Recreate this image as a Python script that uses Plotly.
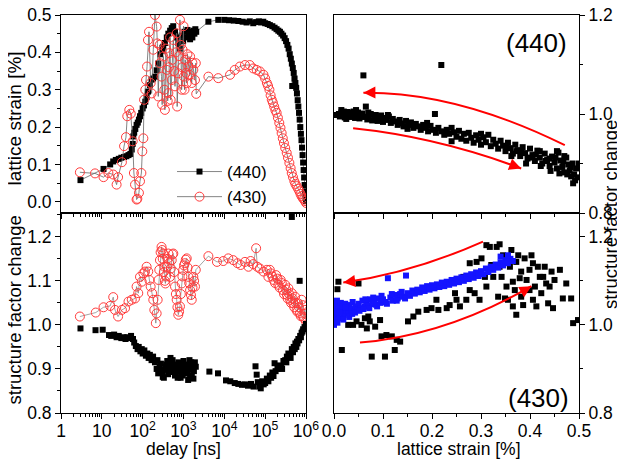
import plotly.graph_objects as go

# top left: (440) lattice strain vs delay
t_strain_440 = [3.0, 11, 16, 19, 22, 26, 30, 35, 40, 45,
                50, 54, 57, 59, 62, 66, 71, 76, 81, 86,
                92, 100, 108, 116, 125, 135, 150, 165, 180, 200,
                220, 241, 270, 300, 320, 350, 390, 425, 470, 515,
                560, 620, 680, 750, 820, 900, 980, 1060, 1150, 1250,
                1350, 1450, 1550, 1650, 1750, 1850, 1950, 2050, 4070, 7100,
                10000, 13000, 17000, 22000, 28000, 35000, 42000, 51000, 60000, 70000,
                80000, 90000, 100000, 115000, 130000, 150000, 170000, 190000, 210000, 230000,
                250000, 275000, 300000, 325000, 350000, 375000, 400000, 425000, 450000, 460000,
                475000, 500000, 525000, 550000, 575000, 600000, 625000, 650000, 675000, 700000,
                725000, 750000, 775000, 800000, 825000, 850000, 875000, 900000, 925000, 950000,
                975000, 1000000]
strain_440 = [0.058, 0.088, 0.100, 0.108, 0.112, 0.115, 0.118, 0.120, 0.122, 0.125,
              0.128, 0.140, 0.155, 0.175, 0.185, 0.195, 0.206, 0.212, 0.220, 0.229,
              0.238, 0.250, 0.258, 0.268, 0.280, 0.295, 0.312, 0.327, 0.330, 0.335,
              0.352, 0.370, 0.395, 0.405, 0.415, 0.425, 0.440, 0.450, 0.458, 0.465,
              0.470, 0.455, 0.440, 0.425, 0.410, 0.445, 0.430, 0.455, 0.440, 0.460,
              0.445, 0.435, 0.455, 0.440, 0.458, 0.450, 0.462, 0.455, 0.482, 0.487,
              0.487, 0.486, 0.485, 0.484, 0.482, 0.480, 0.483, 0.478, 0.481, 0.483,
              0.480, 0.482, 0.478, 0.476, 0.473, 0.470, 0.466, 0.462, 0.458, 0.455,
              0.450, 0.445, 0.438, 0.430, 0.420, 0.410, 0.395, 0.383, 0.370, 0.310,
              0.358, 0.345, 0.330, 0.318, 0.305, 0.290, 0.272, 0.255, 0.238, 0.220,
              0.200, 0.182, 0.165, 0.145, 0.125, 0.105, 0.085, 0.065, 0.045, 0.028,
              0.012, 0.002]

# top left: (430) lattice strain vs delay
t_strain_430 = [2.9, 6.8, 11, 14.5, 19, 23, 25, 31, 35, 39,
                42, 47, 51, 57, 61, 65, 71, 74, 81, 86,
                93, 98, 104, 108, 116, 121, 128, 135, 143, 157,
                166, 182, 200, 220, 229, 241, 260, 265, 290, 300,
                320, 340, 350, 370, 389, 410, 425, 440, 450, 470,
                485, 515, 530, 563, 590, 620, 650, 680, 700, 745,
                780, 819, 860, 900, 930, 950, 1000, 1020, 1060, 1100,
                1150, 1200, 1250, 1320, 1400, 1450, 1590, 1650, 1740, 1910,
                2000, 2050, 4070, 7100, 13800, 18000, 24000, 32000, 42000, 51000,
                62000, 74000, 91000, 100000, 110000, 118000, 127000, 136000, 145000, 155000,
                166000, 178000, 191000, 205000, 222000, 237000, 253000, 270000, 288000, 310000,
                337000, 362000, 392000, 420000, 447000, 480000, 518000, 550000, 589000, 640000,
                690000, 735000, 780000, 835000, 890000, 945000, 1000000]
strain_430 = [0.079, 0.076, 0.066, 0.077, 0.073, 0.046, 0.066, 0.106, 0.149, 0.173,
              0.229, 0.246, 0.236, 0.162, 0.077, 0.046, 0.006, 0.008, 0.024, 0.055,
              0.077, 0.135, 0.170, 0.273, 0.300, 0.326, 0.362, 0.433, 0.455, 0.318,
              0.290, 0.407, 0.500, 0.469, 0.424, 0.282, 0.420, 0.371, 0.335, 0.260,
              0.389, 0.300, 0.246, 0.410, 0.353, 0.270, 0.291, 0.360, 0.398, 0.440,
              0.273, 0.326, 0.380, 0.433, 0.350, 0.309, 0.400, 0.451, 0.255, 0.344,
              0.390, 0.487, 0.420, 0.300, 0.360, 0.407, 0.470, 0.335, 0.300, 0.380,
              0.345, 0.318, 0.395, 0.362, 0.340, 0.389, 0.318, 0.372, 0.353, 0.326,
              0.371, 0.289, 0.335, 0.331, 0.340, 0.353, 0.362, 0.366, 0.366, 0.357,
              0.353, 0.349, 0.340, 0.330, 0.318, 0.310, 0.300, 0.285, 0.273, 0.265,
              0.255, 0.245, 0.238, 0.225, 0.211, 0.198, 0.184, 0.170, 0.157, 0.144,
              0.131, 0.118, 0.104, 0.090, 0.077, 0.066, 0.055, 0.048, 0.042, 0.035,
              0.028, 0.021, 0.015, 0.010, 0.006, 0.002, -0.003]

# bottom left: (440) structure factor change vs delay
t_sf_440 = [3.0, 7.0, 10.5, 15, 17, 20, 23, 26, 30, 34,
            38, 42, 48, 52, 58, 62, 68, 75, 80, 88,
            95, 100, 110, 120, 130, 140, 150, 165, 180, 200,
            220, 240, 260, 280, 300, 330, 360, 400, 440, 480,
            520, 560, 600, 650, 700, 750, 800, 850, 900, 1000,
            1100, 1200, 1300, 1400, 1500, 1600, 1700, 1800, 2000, 4300,
            7000, 11000, 14000, 18000, 22000, 27000, 32000, 38000, 45000, 52000,
            58000, 62000, 66000, 72000, 78000, 85000, 92000, 100000, 110000, 120000,
            130000, 140000, 150000, 160000, 170000, 180000, 200000, 220000, 250000, 280000,
            310000, 340000, 370000, 400000, 450000, 500000, 550000, 600000, 650000, 700000,
            720000, 780000, 850000, 920000, 1000000, 450000,
            230, 270, 310, 350, 380, 420, 460, 500, 540, 580,
            620, 680, 720, 780, 830, 880, 950, 1050, 1150, 1250,
            1350, 1450, 1550, 1650, 1750, 1900,
            260000, 330000, 420000, 480000, 530000, 580000, 620000, 680000, 750000, 820000]
sf_440 = [0.992, 0.988, 0.989, 0.977, 0.975, 0.978, 0.972, 0.975, 0.970, 0.972,
          0.968, 0.972, 0.970, 0.975, 0.968, 0.960, 0.952, 0.945, 0.950, 0.940,
          0.945, 0.935, 0.942, 0.930, 0.935, 0.925, 0.932, 0.920, 0.928, 0.915,
          0.900, 0.890, 0.905, 0.912, 0.895, 0.880, 0.905, 0.918, 0.900, 0.925,
          0.908, 0.893, 0.910, 0.888, 0.902, 0.915, 0.895, 0.880, 0.905, 0.918,
          0.890, 0.910, 0.875, 0.920, 0.898, 0.885, 0.912, 0.895, 0.905, 0.894,
          0.890, 0.874, 0.872, 0.868, 0.866, 0.864, 0.865, 0.862, 0.866, 0.860,
          0.906, 0.887, 0.870, 0.860, 0.856, 0.872, 0.865, 0.868, 0.878, 0.872,
          0.885, 0.880, 0.892, 0.884, 0.913, 0.895, 0.900, 0.908, 0.905, 0.918,
          0.920, 0.928, 0.935, 0.930, 0.945, 0.950, 0.958, 0.962, 0.968, 1.100,
          0.975, 0.982, 0.990, 0.995, 1.002, 1.245,
          0.920, 0.895, 0.882, 0.898, 0.910, 0.888, 0.915, 0.895, 0.920, 0.905,
          0.885, 0.898, 0.880, 0.910, 0.900, 0.892, 0.885, 0.905, 0.898, 0.890,
          0.905, 0.880, 0.915, 0.900, 0.878, 0.915,
          0.900, 0.915, 0.925, 0.938, 0.945, 0.950, 0.958, 0.965, 0.972, 0.985]

# bottom left: (430) structure factor change vs delay
t_sf_430 = [2.9, 7.1, 11, 16, 19, 21, 25, 31, 37, 45,
            54, 65, 71, 78, 86, 95, 104, 114, 125, 137,
            146, 157, 170, 182, 193, 210, 220, 233, 245, 255,
            265, 275, 290, 300, 310, 320, 330, 340, 350, 360,
            375, 389, 405, 425, 445, 465, 490, 515, 540, 563,
            590, 620, 650, 680, 710, 745, 780, 819, 860, 900,
            940, 985, 1030, 1080, 1140, 1200, 1260, 1320, 1380, 1450,
            1520, 1590, 1660, 1740, 1820, 1910, 2000, 4070, 6600, 9400,
            12500, 16500, 21000, 25000, 32000, 39000, 44000, 51000, 60000, 64000,
            74000, 91000, 110000, 120000, 130000, 137000, 150000, 160000, 175000, 185000,
            200000, 210000, 225000, 240000, 255000, 270000, 290000, 310000, 325000, 340000,
            355000, 370000, 390000, 410000, 430000, 450000, 470000, 490000, 515000, 540000,
            565000, 590000, 615000, 640000, 675000, 710000, 745000, 780000, 815000, 850000,
            895000, 940000, 970000, 1000000]
sf_430 = [1.019, 1.028, 1.040, 1.043, 1.063, 1.034, 1.019, 1.034, 1.038, 1.053,
          1.057, 1.060, 1.087, 1.072, 1.109, 1.098, 1.117, 1.121, 1.132, 1.121,
          1.102, 1.087, 1.072, 1.057, 1.034, 1.004, 1.026, 1.057, 1.102, 1.125,
          1.147, 1.165, 1.177, 1.170, 1.150, 1.162, 1.120, 1.132, 1.100, 1.094,
          1.110, 1.132, 1.150, 1.162, 1.140, 1.109, 1.128, 1.147, 1.160, 1.162,
          1.120, 1.087, 1.070, 1.057, 1.040, 1.023, 1.030, 1.042, 1.070, 1.094,
          1.110, 1.125, 1.135, 1.140, 1.148, 1.151, 1.130, 1.109, 1.095, 1.079,
          1.068, 1.057, 1.085, 1.109, 1.100, 1.087, 1.125, 1.156, 1.143, 1.145,
          1.151, 1.147, 1.140, 1.136, 1.143, 1.132, 1.145, 1.138, 1.174, 1.132,
          1.128, 1.121, 1.125, 1.109, 1.125, 1.117, 1.110, 1.102, 1.095, 1.113,
          1.105, 1.091, 1.085, 1.102, 1.095, 1.079, 1.070, 1.091, 1.080, 1.068,
          1.060, 1.083, 1.070, 1.057, 1.050, 1.072, 1.060, 1.049, 1.040, 1.064,
          1.050, 1.034, 1.030, 1.049, 1.040, 1.026, 1.020, 1.057, 1.045, 1.019,
          1.015, 1.034, 1.025, 1.008]

# top right: (440) structure factor change vs lattice strain
x_440 = [0.010, 0.012, 0.015, 0.018, 0.020, 0.022, 0.025, 0.028, 0.030, 0.033,
         0.036, 0.038, 0.040, 0.043, 0.046, 0.049, 0.052, 0.055, 0.058, 0.060,
         0.062, 0.065, 0.068, 0.071, 0.075, 0.078, 0.082, 0.085, 0.089, 0.092,
         0.096, 0.100, 0.104, 0.108, 0.112, 0.116, 0.120, 0.125, 0.130, 0.134,
         0.138, 0.142, 0.147, 0.152, 0.157, 0.162, 0.167, 0.172, 0.177, 0.182,
         0.187, 0.192, 0.197, 0.202, 0.206, 0.208, 0.213, 0.219, 0.220, 0.225,
         0.230, 0.235, 0.240, 0.245, 0.250, 0.255, 0.260, 0.265, 0.270, 0.275,
         0.280, 0.285, 0.290, 0.295, 0.300, 0.305, 0.310, 0.315, 0.320, 0.325,
         0.330, 0.335, 0.340, 0.345, 0.350, 0.355, 0.360, 0.365, 0.370, 0.375,
         0.380, 0.385, 0.390, 0.395, 0.400, 0.405, 0.410, 0.415, 0.420, 0.425,
         0.430, 0.435, 0.440, 0.445, 0.450, 0.455, 0.458, 0.462, 0.466, 0.470,
         0.474, 0.478, 0.481, 0.484, 0.487, 0.490, 0.492, 0.494, 0.497, 0.500,
         0.352, 0.362, 0.372, 0.382, 0.392, 0.402, 0.412, 0.422, 0.432, 0.442,
         0.452, 0.460, 0.468, 0.476, 0.483, 0.488, 0.470, 0.455, 0.440, 0.420,
         0.005, 0.015, 0.025, 0.045, 0.070, 0.110, 0.150, 0.190, 0.240, 0.300]
y_440 = [1.000, 0.995, 1.003, 0.997, 1.005, 0.993, 0.999, 1.004, 0.996, 1.002,
         0.994, 0.999, 1.005, 0.992, 0.998, 1.003, 0.991, 0.997, 1.001, 1.078,
         0.994, 1.015, 0.989, 0.996, 1.000, 0.987, 0.994, 0.998, 0.986, 0.993,
         0.997, 0.984, 0.992, 0.988, 0.995, 0.982, 0.990, 0.985, 0.978, 0.988,
         0.981, 0.975, 0.986, 0.978, 0.983, 0.972, 0.980, 0.975, 0.968, 0.978,
         0.972, 0.965, 0.976, 0.968, 1.000, 0.962, 0.972, 1.099, 0.965, 0.958,
         0.968, 0.960, 0.945, 0.963, 0.954, 0.966, 0.950, 0.960, 0.946, 0.962,
         0.952, 0.942, 0.957, 0.948, 0.938, 0.953, 0.943, 0.958, 0.935, 0.948,
         0.940, 0.930, 0.946, 0.936, 0.925, 0.942, 0.931, 0.920, 0.938, 0.927,
         0.915, 0.933, 0.921, 0.910, 0.930, 0.917, 0.905, 0.926, 0.912, 0.900,
         0.920, 0.907, 0.895, 0.914, 0.902, 0.890, 0.922, 0.906, 0.893, 0.882,
         0.912, 0.898, 0.886, 0.874, 0.900, 0.878, 0.866, 0.890, 0.872, 0.900,
         0.932, 0.915, 0.925, 0.922, 0.900, 0.912, 0.918, 0.895, 0.905, 0.885,
         0.912, 0.880, 0.905, 0.878, 0.893, 0.860, 0.915, 0.925, 0.910, 0.925,
         0.998, 1.008, 0.990, 1.008, 1.003, 0.998, 0.970, 0.982, 0.972, 0.960]

# bottom right: (430) structure factor change vs lattice strain, rise (black)
x_430_rise = [0.009, 0.007, 0.016, 0.029, 0.039, 0.046, 0.050, 0.056, 0.063, 0.067,
              0.070, 0.073, 0.077, 0.084, 0.094, 0.097, 0.104, 0.107, 0.118, 0.124,
              0.128, 0.135, 0.151, 0.162, 0.172, 0.189, 0.209, 0.230, 0.236, 0.250,
              0.264, 0.277, 0.277, 0.287, 0.291, 0.301, 0.308, 0.311, 0.318, 0.321,
              0.332, 0.335, 0.342, 0.345, 0.349, 0.352, 0.355, 0.359, 0.362, 0.365,
              0.369, 0.372, 0.376, 0.379, 0.382, 0.386, 0.389, 0.393, 0.399, 0.403,
              0.406, 0.410, 0.413, 0.420, 0.423, 0.430, 0.433, 0.437, 0.444, 0.447,
              0.450, 0.461, 0.467, 0.474, 0.484, 0.488, 0.498, 0.311, 0.338, 0.372,
              0.382, 0.406, 0.416, 0.427, 0.440, 0.399, 0.365, 0.338, 0.325, 0.297,
              0.270, 0.247, 0.213, 0.199, 0.257]
y_430_rise = [1.098, 1.081, 0.943, 1.000, 1.000, 1.008, 1.094, 1.000, 1.015, 0.992,
              1.019, 1.008, 0.928, 0.996, 1.011, 0.974, 0.928, 0.977, 0.974, 0.943,
              0.966, 0.962, 1.008, 1.019, 1.030, 1.034, 1.057, 1.038, 1.045, 1.057,
              1.109, 1.079, 1.140, 1.072, 1.143, 1.151, 1.109, 1.087, 1.177, 1.136,
              1.177, 1.064, 1.109, 1.158, 1.060, 1.087, 1.057, 1.132, 1.170, 1.042,
              1.079, 1.023, 1.158, 1.106, 1.064, 1.045, 1.151, 1.102, 1.125, 1.158,
              1.057, 1.087, 1.042, 1.109, 1.072, 1.132, 1.094, 1.049, 1.121, 1.038,
              1.102, 1.125, 1.060, 1.094, 1.060, 1.004, 1.011, 1.181, 1.183, 1.143,
              1.121, 1.140, 1.132, 1.109, 1.087, 1.079, 1.098, 1.132, 1.109, 1.057,
              1.057, 1.072, 1.034, 1.038, 1.042]

# bottom right: (430) decay (blue)
x_430_decay = [0.000, 0.002, 0.003, 0.004, 0.005, 0.006, 0.008, 0.010, 0.012, 0.014,
               0.016, 0.018, 0.020, 0.023, 0.026, 0.029, 0.032, 0.035, 0.038, 0.041,
               0.044, 0.047, 0.050, 0.054, 0.058, 0.062, 0.066, 0.070, 0.074, 0.078,
               0.082, 0.086, 0.090, 0.095, 0.100, 0.105, 0.110, 0.115, 0.120, 0.125,
               0.130, 0.135, 0.140, 0.147, 0.150, 0.155, 0.160, 0.165, 0.170, 0.175,
               0.180, 0.185, 0.190, 0.195, 0.200, 0.205, 0.210, 0.215, 0.220, 0.225,
               0.230, 0.235, 0.240, 0.245, 0.250, 0.255, 0.260, 0.265, 0.270, 0.275,
               0.280, 0.285, 0.290, 0.295, 0.300, 0.305, 0.310, 0.315, 0.320, 0.325,
               0.330, 0.335, 0.340, 0.345, 0.350, 0.355, 0.360, 0.365, 0.340, 0.355,
               0.001, 0.007, 0.011, 0.019, 0.024, 0.031, 0.037, 0.043, 0.052, 0.060,
               0.064, 0.072, 0.080, 0.088, 0.097, 0.108, 0.118, 0.128, 0.138, 0.145]
y_430_decay = [1.000, 1.020, 1.045, 1.010, 1.035, 1.055, 1.025, 1.040, 1.015, 1.050,
               1.030, 1.042, 1.022, 1.048, 1.033, 1.026, 1.045, 1.036, 1.052, 1.030,
               1.042, 1.035, 1.048, 1.038, 1.055, 1.041, 1.050, 1.044, 1.058, 1.047,
               1.053, 1.046, 1.060, 1.050, 1.058, 1.052, 1.106, 1.062, 1.055, 1.068,
               1.060, 1.070, 1.064, 1.112, 1.072, 1.066, 1.078, 1.071, 1.080, 1.074,
               1.085, 1.077, 1.088, 1.080, 1.090, 1.083, 1.092, 1.086, 1.096, 1.088,
               1.098, 1.091, 1.102, 1.094, 1.105, 1.097, 1.108, 1.100, 1.112, 1.104,
               1.115, 1.107, 1.119, 1.111, 1.122, 1.115, 1.128, 1.120, 1.132, 1.125,
               1.137, 1.130, 1.142, 1.135, 1.147, 1.140, 1.150, 1.145, 1.155, 1.158,
               1.030, 1.005, 1.028, 1.012, 1.040, 1.018, 1.025, 1.028, 1.032, 1.036,
               1.058, 1.038, 1.062, 1.042, 1.066, 1.048, 1.070, 1.055, 1.075, 1.060]

delay_ticks = [1, 10, 100, 1000, 10000, 100000, 1000000]
delay_labels = ["1", "10", "10<sup>2</sup>", "10<sup>3</sup>", "10<sup>4</sup>",
                "10<sup>5</sup>", "10<sup>6</sup>"]


def sort_pairs(t, v):
    pairs = sorted(zip(t, v))
    return [p[0] for p in pairs], [p[1] for p in pairs]


# the page body has an 8px margin, so the figure starts 8px in
W, H, OFF = 617, 456, 8


def px(x):
    return (x - OFF) / W


def py(y):
    return 1 - (y - OFF) / H


FONT = "Liberation Sans, Arial, sans-serif"
RED = "#ff3b3b"
GREY = "#666666"

fig = go.Figure()

fig.add_trace(go.Scatter(x=t_strain_440, y=strain_440, mode="lines+markers", name="(440)",
                         line=dict(color=GREY, width=0.8),
                         marker=dict(symbol="square", size=6, color="black"),
                         xaxis="x", yaxis="y"))
tb, sb = sort_pairs(t_strain_430, strain_430)
fig.add_trace(go.Scatter(x=tb, y=sb, mode="lines+markers", name="(430)",
                         line=dict(color=GREY, width=0.8),
                         marker=dict(symbol="circle-open", size=9, color=RED, line=dict(width=1)),
                         xaxis="x", yaxis="y"))

td, sd = sort_pairs(t_sf_430, sf_430)
fig.add_trace(go.Scatter(x=td, y=sd, mode="lines+markers", showlegend=False,
                         line=dict(color=GREY, width=0.6),
                         marker=dict(symbol="circle-open", size=9, color=RED, line=dict(width=1)),
                         xaxis="x3", yaxis="y3"))
fig.add_trace(go.Scatter(x=t_sf_440, y=sf_440, mode="markers", showlegend=False,
                         marker=dict(symbol="square", size=6, color="black"),
                         xaxis="x3", yaxis="y3"))

fig.add_trace(go.Scatter(x=x_440, y=y_440, mode="markers", showlegend=False,
                         marker=dict(symbol="square", size=6, color="black"),
                         xaxis="x2", yaxis="y2"))

fig.add_trace(go.Scatter(x=x_430_rise, y=y_430_rise, mode="markers", showlegend=False,
                         marker=dict(symbol="square", size=6, color="black"),
                         xaxis="x4", yaxis="y4"))
fig.add_trace(go.Scatter(x=x_430_decay, y=y_430_decay, mode="markers", showlegend=False,
                         marker=dict(symbol="square", size=6, color="#1414ff"),
                         xaxis="x4", yaxis="y4"))

left_dom = [px(61), px(306)]
right_dom = [px(334), px(579)]
top_dom = [py(213), py(15)]
bot_dom = [py(413), py(213)]

axis_common = dict(showline=True, mirror=True, linecolor="black", linewidth=1,
                   ticks="outside", ticklen=5, tickcolor="black", showgrid=False,
                   zeroline=False, automargin=False, ticklabeloverflow="allow",
                   tickfont=dict(family=FONT, size=17.5, color="black"))

fig.update_layout(
    width=W, height=H,
    margin=dict(l=0, r=0, t=0, b=0),
    paper_bgcolor="white", plot_bgcolor="white",
    xaxis=dict(domain=left_dom, anchor="y", type="log", range=[0, 6],
               tickvals=delay_ticks, showticklabels=False,
               minor=dict(ticks="outside", ticklen=3, dtick="D1"), **axis_common),
    yaxis=dict(domain=top_dom, anchor="x", range=[-0.03, 0.5], dtick=0.1, tick0=0,
               tickformat=".1f", minor=dict(ticks="outside", ticklen=3, dtick=0.05, tick0=0),
               **axis_common),
    xaxis3=dict(domain=left_dom, anchor="y3", type="log", range=[0, 6],
                tickvals=delay_ticks, ticktext=delay_labels, ticklabelstandoff=-3,
                minor=dict(ticks="outside", ticklen=3, dtick="D1"), **axis_common),
    yaxis3=dict(domain=bot_dom, anchor="x3", range=[0.8, 1.254], dtick=0.1, tick0=0.8,
                tickformat=".1f", minor=dict(ticks="outside", ticklen=3, dtick=0.05, tick0=0.8),
                **axis_common),
    xaxis2=dict(domain=right_dom, anchor="y2", range=[0, 0.5], dtick=0.1, tick0=0,
                showticklabels=False,
                minor=dict(ticks="outside", ticklen=3, dtick=0.05, tick0=0), **axis_common),
    yaxis2=dict(domain=top_dom, anchor="x2", side="right", range=[0.8, 1.2], dtick=0.2,
                tick0=0.8, tickformat=".1f",
                minor=dict(ticks="outside", ticklen=3, dtick=0.1, tick0=0.8), **axis_common),
    xaxis4=dict(domain=right_dom, anchor="y4", range=[0, 0.5], dtick=0.1, tick0=0,
                tickformat=".1f", ticklabelstandoff=-3,
                minor=dict(ticks="outside", ticklen=3, dtick=0.05, tick0=0), **axis_common),
    yaxis4=dict(domain=bot_dom, anchor="x4", side="right", range=[0.8, 1.254], dtick=0.2,
                tick0=0.8, tickformat=".1f",
                minor=dict(ticks="outside", ticklen=3, dtick=0.1, tick0=0.8), **axis_common),
    legend=dict(x=px(172), y=py(154), xanchor="left", yanchor="top",
                bgcolor="rgba(0,0,0,0)", font=dict(family=FONT, size=17, color="black"),
                itemwidth=45, tracegroupgap=0),
    showlegend=True,
)

titles = [
    ("lattice strain [%]", 13.5, 119, -90, 19),
    ("structure factor change", 13.5, 310, -90, 18.5),
    ("structure factor change", 610, 215, -90, 18.5),
    ("delay [ns]", 183, 449, 0, 17.5),
    ("lattice strain [%]", 459, 449, 0, 17.5),
]
for text, x0, y0, ang, size in titles:
    fig.add_annotation(text=text, x=px(x0), y=py(y0), xref="paper", yref="paper",
                       xanchor="center", yanchor="middle", textangle=ang, showarrow=False,
                       font=dict(family=FONT, size=size, color="black"))

fig.add_annotation(text="(440)", x=px(536), y=py(43), xref="paper", yref="paper",
                   xanchor="center", yanchor="middle", showarrow=False,
                   font=dict(family=FONT, size=26, color="black"))
fig.add_annotation(text="(430)", x=px(538), y=py(398), xref="paper", yref="paper",
                   xanchor="center", yanchor="middle", showarrow=False,
                   font=dict(family=FONT, size=26, color="black"))

# red curved arrows: (start, control, tip, axes)
arrows = [
    ((0.471, 0.937), (0.25, 1.045), (0.06, 1.043), "x2", "y2"),
    ((0.039, 0.971), (0.21, 0.9535), (0.382, 0.890), "x2", "y2"),
    ((0.304, 1.189), (0.16, 1.118), (0.019, 1.096), "x4", "y4"),
    ((0.053, 0.960), (0.228, 0.976), (0.403, 1.088), "x4", "y4"),
]
for p0, c, p2, xr, yr in arrows:
    fig.add_shape(type="path", xref=xr, yref=yr,
                  path=f"M {p0[0]},{p0[1]} Q {c[0]},{c[1]} {p2[0]},{p2[1]}",
                  line=dict(color="red", width=2))
    bx = p2[0] + (c[0] - p2[0]) * 0.12
    by = p2[1] + (c[1] - p2[1]) * 0.12
    fig.add_annotation(x=p2[0], y=p2[1], ax=bx, ay=by, xref=xr, yref=yr, axref=xr, ayref=yr,
                       text="", showarrow=True, arrowhead=2, arrowsize=1.2, arrowwidth=2,
                       arrowcolor="red")

fig.write_html("out.html")
